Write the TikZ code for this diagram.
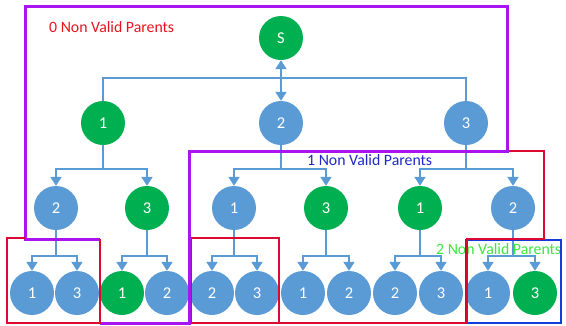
\documentclass[tikz,border=0pt]{standalone}
\usepackage{fontspec}
\setmainfont{Carlito}
\usetikzlibrary{arrows.meta,backgrounds}
\definecolor{ngreen}{RGB}{0,176,80}
\definecolor{nblue}{RGB}{91,155,213}
\definecolor{bpurple}{RGB}{170,20,240}
\definecolor{bred}{RGB}{220,10,50}
\definecolor{bblue}{RGB}{20,60,220}
\definecolor{tred}{RGB}{230,20,30}
\definecolor{tblue}{RGB}{30,40,200}
\definecolor{tgreen}{RGB}{60,230,60}
\tikzset{
  nd/.style={circle,minimum size=44pt,inner sep=0pt,text=white,font=\fontsize{16.5}{16.5}\selectfont},
  gn/.style={nd,fill=ngreen},
  bn/.style={nd,fill=nblue},
  link/.style={draw=nblue,line width=2pt},
  arr/.style={link,-{Triangle[width=11pt,length=9pt]}},
  dbl/.style={link,{Triangle[width=11pt,length=9pt]}-{Triangle[width=11pt,length=9pt]}},
  lbl/.style={anchor=west,font=\fontsize{15.8}{15.8}\selectfont,inner sep=0pt},
}
\begin{document}
\begin{tikzpicture}[x=1pt,y=-1pt]
\useasboundingbox (0,0) rectangle (566,325);
% nodes
\node[gn] (s) at (281,38) {S};
\node[gn] (a1) at (103,123) {1};
\node[bn] (a2) at (281,123) {2};
\node[bn] (a3) at (466,123) {3};
\node[bn] (b1) at (56,208) {2};
\node[gn] (b2) at (147,208) {3};
\node[bn] (b3) at (234,208) {1};
\node[gn] (b4) at (326,208) {3};
\node[gn] (b5) at (420,208) {1};
\node[bn] (b6) at (513,208) {2};
\node[bn] (c1) at (32,293) {1};
\node[bn] (c2) at (77,293) {3};
\node[gn] (c3) at (122,293) {1};
\node[bn] (c4) at (167,293) {2};
\node[bn] (c5) at (212,293) {2};
\node[bn] (c6) at (257,293) {3};
\node[bn] (c7) at (303,293) {1};
\node[bn] (c8) at (349,293) {2};
\node[bn] (c9) at (395,293) {2};
\node[bn] (c10) at (441,293) {3};
\node[bn] (c11) at (488,293) {1};
\node[gn] (c12) at (535,293) {3};
% junctions
\coordinate (j0) at (281,78);
\coordinate (ja1) at (103,169);
\coordinate (ja2) at (281,169);
\coordinate (ja3) at (466,169);
\coordinate (jb1) at (56,256);
\coordinate (jb2) at (147,256);
\coordinate (jb3) at (234,256);
\coordinate (jb4) at (326,256);
\coordinate (jb5) at (420,256);
\coordinate (jb6) at (513,256);
\begin{scope}[on background layer]
\draw[dbl] (s) -- (a2);
\draw[link] (a1) |- (j0) -| (a3);
\draw[link] (a1) -- (ja1);
\draw[arr] (ja1) -| (b1);
\draw[arr] (ja1) -| (b2);
\draw[link] (a2) -- (ja2);
\draw[arr] (ja2) -| (b3);
\draw[arr] (ja2) -| (b4);
\draw[link] (a3) -- (ja3);
\draw[arr] (ja3) -| (b5);
\draw[arr] (ja3) -| (b6);
\draw[link] (b1) -- (jb1);
\draw[arr] (jb1) -| (c1);
\draw[arr] (jb1) -| (c2);
\draw[link] (b2) -- (jb2);
\draw[arr] (jb2) -| (c3);
\draw[arr] (jb2) -| (c4);
\draw[link] (b3) -- (jb3);
\draw[arr] (jb3) -| (c5);
\draw[arr] (jb3) -| (c6);
\draw[link] (b4) -- (jb4);
\draw[arr] (jb4) -| (c7);
\draw[arr] (jb4) -| (c8);
\draw[link] (b5) -- (jb5);
\draw[arr] (jb5) -| (c9);
\draw[arr] (jb5) -| (c10);
\draw[link] (b6) -- (jb6);
\draw[arr] (jb6) -| (c11);
\draw[arr] (jb6) -| (c12);
\end{scope}
% labels
\node[lbl,text=tred] (t0) at (49,27) {0 Non Valid Parents};
\node[lbl,text=tblue] (t1) at (307,160) {1 Non Valid Parents};
\node[lbl,text=tgreen] (t2) at (436,249) {2 Non Valid Parents};
% boxes
\draw[bblue,line width=2pt] (466,240) rectangle (561,323);
\draw[bblue,line width=2pt] (189,323) -- (279,323);
\draw[bred,line width=2.2pt] (191,238) rectangle (279,323);
\draw[bred,line width=2.2pt] (507,151) -- (544,151) -- (544,239) -- (467,239) -- (467,323) -- (279,323);
\draw[bpurple,line width=3pt,line join=miter] (100,323) -- (189,323) -- (189,151) -- (507,151) -- (507,6) -- (25,6) -- (25,239) -- (100,239);
\draw[bred,line width=2.2pt] (25,238) -- (7,238) -- (7,323) -- (100,323) -- (100,239);
\end{tikzpicture}
\end{document}
